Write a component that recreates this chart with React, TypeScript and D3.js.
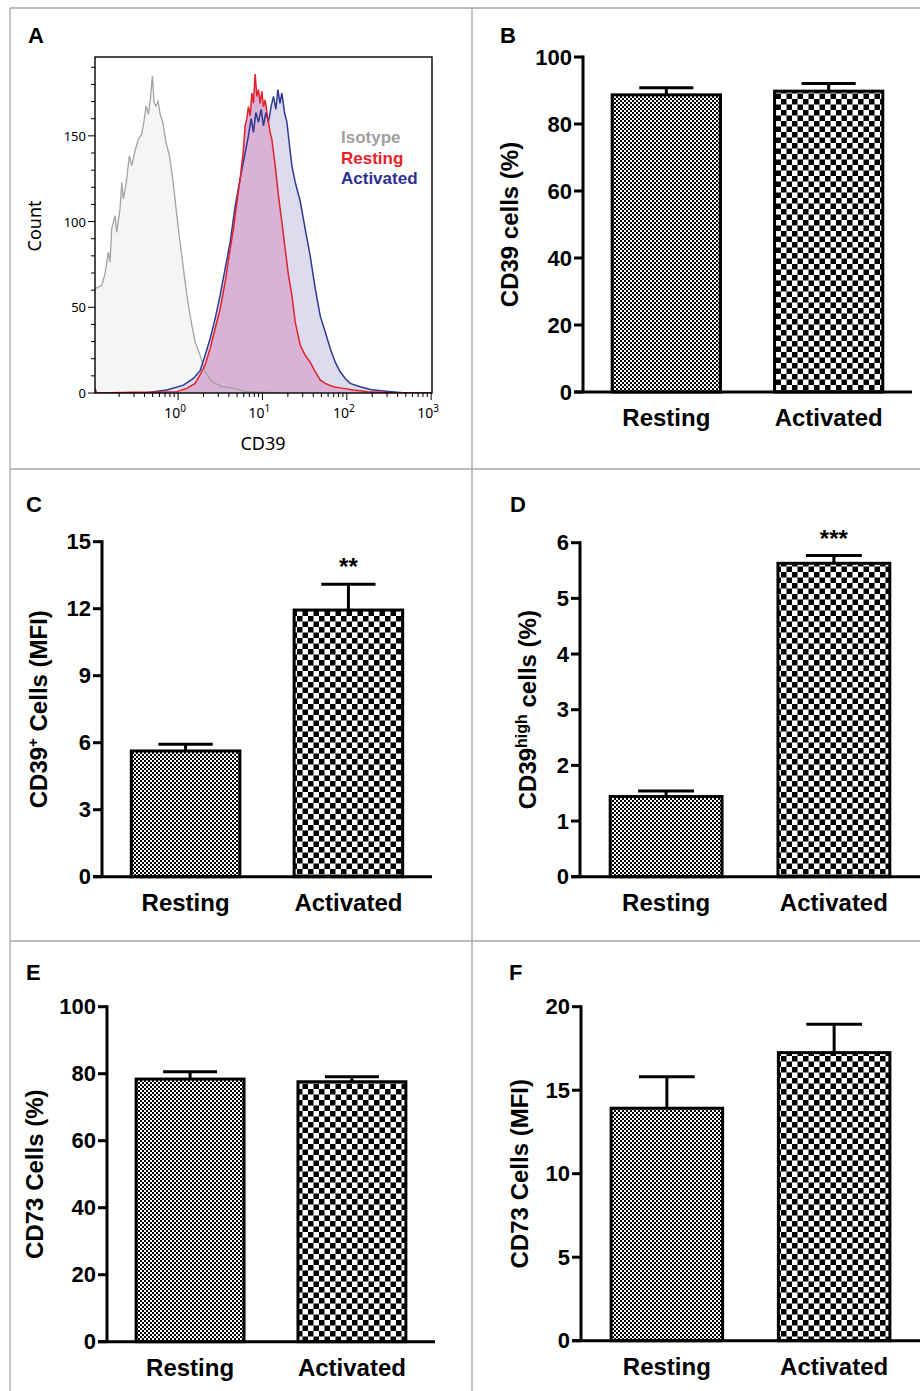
import React from "react";
import * as d3 from "d3";

// ---- panel A: flow cytometry histogram (CD39 fluorescence vs count) ----
const isotypeCD39 = [0.1036, 0.1244, 0.1361, 0.149, 0.156, 0.1634, 0.179, 0.187, 0.205, 0.215, 0.2245, 0.2415, 0.2645, 0.282, 0.309, 0.338, 0.371, 0.395, 0.417, 0.444, 0.469, 0.496, 0.519, 0.548, 0.579, 0.612, 0.658, 0.721, 0.789, 0.865, 0.947, 1.018, 1.106, 1.211, 1.325, 1.454, 1.591, 1.824, 2.09, 2.51, 3.3, 4.34, 6.23, 9.39, 16.2];
const isotypeCount = [60.9, 62.8, 69.6, 82.2, 76.4, 95.7, 103.5, 93.8, 107.4, 122.9, 113.2, 121.9, 138.4, 132.6, 141.3, 148.1, 151, 158.7, 167.4, 162.6, 171.3, 184.9, 169.4, 167.4, 170.3, 162.6, 157.8, 146.1, 138.4, 124.8, 107.4, 93.8, 80.2, 64.7, 51.2, 39.5, 29.8, 22.1, 12.4, 6.6, 3.7, 3, 1, 0.5, 0];

const restingCD39 = [0.1036, 0.108, 0.3, 0.559, 0.965, 1.27, 1.59, 1.82, 2.09, 2.4, 2.75, 3.15, 3.61, 4.14, 4.53, 4.97, 5.44, 5.95, 6.23, 6.53, 6.82, 7.15, 7.49, 7.82, 8.19, 8.58, 8.97, 9.39, 9.84, 10.28, 10.77, 11.59, 12.34, 12.93, 14.15, 15.48, 16.99, 18.59, 20.35, 22.33, 24.43, 28, 32.1, 36.8, 42.2, 48.4, 55.4, 69, 90.6, 119, 175, 300, 1023];
const restingCount = [3, 0, 0.5, 0.4, 0.8, 2.7, 5.6, 10.5, 16.3, 26, 37.6, 49, 64.7, 84, 95.7, 111, 125, 142, 156, 160, 167, 161.6, 175, 169, 186, 173, 177, 169, 176, 167, 171, 160, 152, 148, 132.6, 115, 99.6, 84, 68.6, 57, 41.5, 28, 22, 18, 12.4, 7.6, 5.6, 3.7, 2.7, 1.7, 0.8, 0.3, 0];

const activatedCD39 = [0.1036, 0.4, 0.735, 1.156, 1.519, 1.824, 2.09, 2.4, 2.75, 3.15, 3.61, 4.14, 4.75, 5.44, 6.23, 6.82, 7.34, 7.82, 8.35, 8.97, 9.65, 10.28, 10.97, 11.78, 12.69, 13.51, 14.42, 15.23, 16.13, 16.99, 18.24, 19.48, 20.74, 22.33, 24.43, 28, 32.1, 36.8, 42.2, 48.4, 55.4, 63.6, 72.9, 83.5, 95.7, 109.7, 144, 190, 270, 396, 500, 1023];
const activatedCount = [0, 0, 1.7, 4.6, 8.5, 13, 22, 31.8, 43.4, 57, 72.5, 88, 109, 125, 140, 150, 160, 152, 163.6, 158, 165.5, 155.8, 163.6, 158, 167.4, 173, 165.5, 177, 169, 175, 163.6, 158, 146, 132.6, 123, 112, 95.7, 80, 61, 45, 35.7, 26, 18, 12.4, 8.5, 5.6, 3.7, 2.1, 1.2, 0.4, 0, 0];

const histYTicks = [0, 50, 100, 150];
const histXDecades = [1, 10, 100, 1000];
const histXExponents = ["0", "1", "2", "3"];
const legendNames = ["Isotype", "Resting", "Activated"];

// ---- panels B-F: bar charts, mean + SEM ----
const categories = ["Resting", "Activated"];

const cd39PctMean = [88.7, 89.8];
const cd39PctSem = [2.1, 2.3];
const cd39PctTicks = [0, 20, 40, 60, 80, 100];

const cd39MfiMean = [5.63, 11.94];
const cd39MfiSem = [0.3, 1.15];
const cd39MfiTicks = [0, 3, 6, 9, 12, 15];
const cd39MfiStars = ["", "**"];

const cd39HighMean = [1.44, 5.63];
const cd39HighSem = [0.1, 0.14];
const cd39HighTicks = [0, 1, 2, 3, 4, 5, 6];
const cd39HighStars = ["", "***"];

const cd73PctMean = [78.4, 77.6];
const cd73PctSem = [2.2, 1.5];
const cd73PctTicks = [0, 20, 40, 60, 80, 100];

const cd73MfiMean = [13.92, 17.25];
const cd73MfiSem = [1.89, 1.7];
const cd73MfiTicks = [0, 5, 10, 15, 20];

const BOLD = "'Liberation Sans', Arial, sans-serif";
const HUMAN = "'Noto Sans', 'Open Sans', sans-serif";

const toPoints = (xs, ys) => xs.map((v, i) => ({ v, c: ys[i] }));

function Histogram() {
  const left = 95, right = 432, top = 57, bottom = 393;
  const x = d3.scaleLog().domain([0.1035, 1023]).range([left, right]);
  const y = d3.scaleLinear().domain([0, 196]).range([bottom, top]);

  const area = d3.area().x((d) => x(d.v)).y0(y(0)).y1((d) => y(d.c));
  const line = d3.line().x((d) => x(d.v)).y((d) => y(d.c));

  const iso = toPoints(isotypeCD39, isotypeCount);
  const rest = toPoints(restingCD39, restingCount);
  const act = toPoints(activatedCD39, activatedCount);

  const minorY = d3.range(0, 196, 10);
  const xTicks = x.ticks().filter((t) => t > 0.1035 && t <= 1000);
  const legendColors = ["#a0a0a0", "#e8202a", "#2e3192"];

  return (
    <g>
      <text x={28} y={43} fontFamily={BOLD} fontWeight="bold" fontSize={22}>A</text>
      <defs>
        <clipPath id="histClip">
          <rect x={left} y={top} width={right - left} height={bottom - top} />
        </clipPath>
      </defs>
      <g clipPath="url(#histClip)">
        <path d={area(iso)} fill="#f5f5f5" />
        <path d={area(act)} fill="#dcdcee" />
        <path d={area(rest)} fill="#d9b2d5" />
        <path d={line(iso)} fill="none" stroke="#a3a3a3" strokeWidth={1.3} />
        <path d={line(act)} fill="none" stroke="#2e3a92" strokeWidth={1.5} />
        <path d={line(rest)} fill="none" stroke="#e3212b" strokeWidth={1.5} />
      </g>
      <rect x={left} y={top} width={right - left} height={bottom - top} fill="none" stroke="#000" strokeWidth={1.4} />

      {minorY.map((t) => (
        <line key={"my" + t} x1={left - (t % 50 === 0 ? 7 : 4)} x2={left} y1={y(t)} y2={y(t)} stroke="#000" strokeWidth={1} />
      ))}
      {histYTicks.map((t) => (
        <text key={"yl" + t} x={left - 9} y={y(t)} textAnchor="end" dominantBaseline="central" fontFamily={HUMAN} fontSize={13}>{t}</text>
      ))}
      {xTicks.map((t, i) => {
        const major = histXDecades.includes(t);
        return <line key={"xt" + i} x1={x(t)} x2={x(t)} y1={bottom} y2={bottom + (major ? 7 : 4)} stroke="#000" strokeWidth={1} />;
      })}
      {histXDecades.map((t, i) => (
        <text key={"xl" + t} x={x(t) - 3} y={418} textAnchor="middle" fontFamily={HUMAN} fontSize={14}>
          10<tspan dy={-6} fontSize={10}>{histXExponents[i]}</tspan>
        </text>
      ))}
      <text x={263} y={450} textAnchor="middle" fontFamily={HUMAN} fontSize={18}>CD39</text>
      <text transform={`translate(41,${(top + bottom) / 2 + 1}) rotate(-90)`} textAnchor="middle" fontFamily={HUMAN} fontSize={18}>Count</text>

      {legendNames.map((n, i) => (
        <text key={n} x={341} y={143 + i * 20.5} fontFamily={BOLD} fontWeight="bold" fontSize={17} fill={legendColors[i]}>{n}</text>
      ))}
    </g>
  );
}

function BarPanel({ letter, letterX, letterY, left, right, bottom, top, max, ticks, means, sems, stars, titleX, title }) {
  const x = d3.scaleBand().domain(categories).range([left, right]).paddingInner(1 / 3).paddingOuter(0.18);
  const y = d3.scaleLinear().domain([0, max]).range([bottom, top]);
  const bw = x.bandwidth();
  const fills = ["url(#fineChk)", "url(#coarseChk)"];

  return (
    <g>
      <text x={letterX} y={letterY} fontFamily={BOLD} fontWeight="bold" fontSize={22}>{letter}</text>
      {categories.map((c, i) => {
        const cx = x(c) + bw / 2;
        const yt = y(means[i]);
        const ye = y(means[i] + sems[i]);
        return (
          <g key={c}>
            <line x1={cx} x2={cx} y1={yt} y2={ye} stroke="#000" strokeWidth={3} />
            <line x1={cx - bw / 4} x2={cx + bw / 4} y1={ye} y2={ye} stroke="#000" strokeWidth={3} />
            <rect x={x(c)} y={yt} width={bw} height={y(0) - yt} fill={fills[i]} stroke="#000" strokeWidth={3} />
            {stars && stars[i] ? (
              <text x={cx} y={ye - 9} textAnchor="middle" fontFamily={BOLD} fontWeight="bold" fontSize={24}>{stars[i]}</text>
            ) : null}
            <text x={cx} y={bottom + 34} textAnchor="middle" fontFamily={BOLD} fontWeight="bold" fontSize={24}>{c}</text>
          </g>
        );
      })}
      <line x1={left} x2={left} y1={y(0)} y2={y(max) - 1.5} stroke="#000" strokeWidth={3} />
      <line x1={left - 9} x2={right} y1={y(0)} y2={y(0)} stroke="#000" strokeWidth={3} />
      {ticks.map((t) => (
        <g key={t}>
          <line x1={left - 9} x2={left} y1={y(t)} y2={y(t)} stroke="#000" strokeWidth={3} />
          <text x={left - 11} y={y(t)} textAnchor="end" dominantBaseline="central" fontFamily={BOLD} fontWeight="bold" fontSize={22}>{t}</text>
        </g>
      ))}
      <text transform={`translate(${titleX},${(top + bottom) / 2}) rotate(-90)`} textAnchor="middle" fontFamily={BOLD} fontWeight="bold" fontSize={24}>
        {title}
      </text>
    </g>
  );
}

export default function App() {
  return (
    <svg width={920} height={1391} style={{ position: "absolute", left: 0, top: 0, background: "#fff" }}>
      <defs>
        <pattern id="fineChk" width={4} height={4} patternUnits="userSpaceOnUse">
          <rect width={4} height={4} fill="#fff" />
          <rect width={2} height={2} fill="#000" />
          <rect x={2} y={2} width={2} height={2} fill="#000" />
        </pattern>
        <pattern id="coarseChk" width={11} height={11} patternUnits="userSpaceOnUse">
          <rect width={11} height={11} fill="#fff" />
          <rect width={5.5} height={5.5} fill="#000" />
          <rect x={5.5} y={5.5} width={5.5} height={5.5} fill="#000" />
        </pattern>
      </defs>
      <rect width={920} height={1391} fill="#fff" />

      {/* panel frame */}
      <g stroke="#a8a8a8" strokeWidth={1.3}>
        <line x1={10} x2={920} y1={8} y2={8} />
        <line x1={10} x2={10} y1={8} y2={1391} />
        <line x1={472} x2={472} y1={8} y2={1391} />
        <line x1={10} x2={920} y1={469} y2={469} />
        <line x1={10} x2={920} y1={941} y2={941} />
      </g>

      <Histogram />

      <BarPanel letter="B" letterX={500} letterY={43} left={583} right={912} bottom={392} top={57} max={100}
        ticks={cd39PctTicks} means={cd39PctMean} sems={cd39PctSem} titleX={518}
        title="CD39 cells (%)" />

      <BarPanel letter="C" letterX={26} letterY={512} left={102} right={432} bottom={876.7} top={541.7} max={15}
        ticks={cd39MfiTicks} means={cd39MfiMean} sems={cd39MfiSem} stars={cd39MfiStars} titleX={47}
        title={<>CD39<tspan dy={-9} fontSize={15}>+</tspan><tspan dy={9}> Cells (MFI)</tspan></>} />

      <BarPanel letter="D" letterX={510} letterY={512} left={580} right={920} bottom={876.7} top={542.7} max={6}
        ticks={cd39HighTicks} means={cd39HighMean} sems={cd39HighSem} stars={cd39HighStars} titleX={536}
        title={<>CD39<tspan dy={-9} fontSize={16}>high</tspan><tspan dy={9}> cells (%)</tspan></>} />

      <BarPanel letter="E" letterX={26} letterY={980} left={107} right={435} bottom={1341.7} top={1006.7} max={100}
        ticks={cd73PctTicks} means={cd73PctMean} sems={cd73PctSem} titleX={43}
        title="CD73 Cells (%)" />

      <BarPanel letter="F" letterX={509} letterY={980} left={581} right={920} bottom={1340.7} top={1006.7} max={20}
        ticks={cd73MfiTicks} means={cd73MfiMean} sems={cd73MfiSem} titleX={528}
        title="CD73 Cells (MFI)" />
    </svg>
  );
}
